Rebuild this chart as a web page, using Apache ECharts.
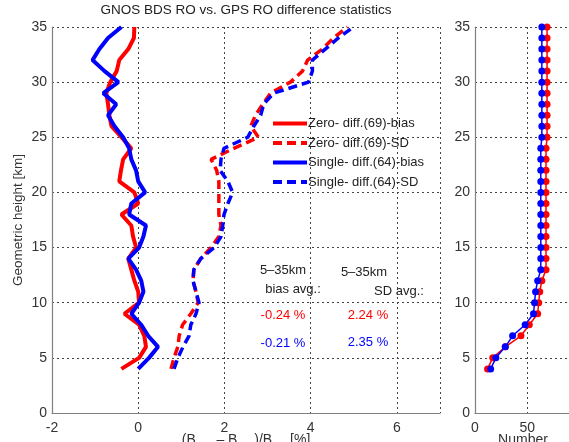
<!DOCTYPE html>
<html>
<head>
<meta charset="utf-8">
<script src="https://cdn.jsdelivr.net/npm/echarts@6/dist/echarts.min.js"></script>
<style>
html,body{margin:0;padding:0;background:#fff;}
#chart{width:569px;height:442px;}
</style>
</head>
<body>
<div id="chart"></div>
<script>
// Heights [km]
const heights = [4,5,6,7,8,9,10,11,12,13,14,15,16,17,18,19,20,21,22,23,24,25,26,27,28,29,30,31,32,33,34,35];
// Relative difference [%]
const zeroBias   = [-0.39,0.02,0.18,0.14,0.02,-0.32,0.02,0.00,-0.09,-0.16,-0.23,-0.05,-0.12,-0.16,-0.39,0.00,-0.09,-0.44,-0.40,-0.35,-0.16,-0.39,-0.62,-0.67,-0.70,-0.74,-0.65,-0.50,-0.44,-0.23,-0.10,-0.09];
const zeroSD     = [0.76,0.83,0.92,0.95,1.03,1.22,1.39,1.34,1.27,1.29,1.45,1.69,1.87,1.92,1.87,1.87,1.87,1.87,1.82,1.69,2.22,2.79,2.61,2.72,2.89,3.07,3.53,3.81,3.93,4.27,4.53,4.85];
const singleBias = [0.00,0.25,0.46,0.23,0.07,-0.16,0.02,0.12,0.07,-0.05,-0.23,0.02,0.12,0.18,-0.21,-0.16,0.16,0.00,-0.05,-0.16,-0.21,-0.35,-0.55,-0.70,-0.51,-0.81,-0.46,-0.78,-1.06,-0.90,-0.70,-0.39];
const singleSD   = [0.83,0.92,1.04,1.18,1.22,1.34,1.41,1.34,1.27,1.29,1.45,1.76,1.92,1.96,1.99,2.08,2.19,2.08,1.90,1.92,1.99,2.54,2.68,2.84,2.91,3.14,3.95,4.04,4.04,4.34,4.64,4.99];
// Number of profiles
const zeroCount   = [12,17,29,44,52,60,61,62,64,68,68,68,68,68,68,68,68,68,68,68,68,69,69,69,69,69,69,69,69,69,69,69];
const singleCount = [15,20,29,36,48,56,57,58,60,63,63,63,63,63,63,63,63,63,63,63,63,64,64,64,64,64,64,64,64,64,64,64];
// Labels
const seriesNames = ['Zero- diff.(69)-bias','Zero- diff.(69)-SD','Single- diff.(64)-bias','Single- diff.(64)-SD'];
const titleText = 'GNOS BDS RO vs. GPS RO difference statistics';
const avgLabels = {range:'5\u201335km', bias:'bias avg.:', sd:'SD avg.:', zeroBias:'-0.24 %', zeroSD:'2.24 %', singleBias:'-0.21 %', singleSD:'2.35 %'};

const RED = '#ff0000', BLUE = '#0000ff';
const pair = (xs) => xs.map((v,i) => [v, heights[i]]);
const FONT = 'Liberation Sans, Arial, sans-serif';
const gridLine = {show:true, lineStyle:{color:'#444', type:[2,3], width:1}};
const axLine = {show:true, onZero:false, lineStyle:{color:'#808080', width:1.2}};
const lbl = {color:'#333', fontSize:14, fontFamily:FONT};

const chart = echarts.init(document.getElementById('chart'));
chart.setOption({
  animation:false,
  backgroundColor:'#fff',
  grid:[
    {left:52, top:27, width:388, bottom:29},
    {left:475, top:27, width:94, bottom:29}
  ],
  xAxis:[
    {gridIndex:0, type:'value', min:-2, max:7, interval:2, axisLine:axLine, axisTick:{show:false},
     splitLine:gridLine, axisLabel:Object.assign({margin:8, showMaxLabel:false}, lbl)},
    {gridIndex:1, type:'value', min:0, max:90, interval:50, axisLine:axLine, axisTick:{show:false},
     splitLine:gridLine, axisLabel:Object.assign({margin:8, showMaxLabel:false}, lbl)}
  ],
  yAxis:[
    {gridIndex:0, type:'value', min:0, max:35, interval:5, axisLine:axLine, axisTick:{show:false},
     splitLine:gridLine, axisLabel:Object.assign({margin:5}, lbl)},
    {gridIndex:1, type:'value', min:0, max:35, interval:5, axisLine:axLine, axisTick:{show:false},
     splitLine:gridLine, axisLabel:Object.assign({margin:5}, lbl)}
  ],
  legend:{
    data:seriesNames, orient:'vertical', left:266, top:112, itemWidth:34, itemHeight:14, itemGap:6.5,
    itemStyle:{opacity:0}, lineStyle:{width:4},
    textStyle:{color:'#222', fontSize:13, fontFamily:FONT, padding:[0,0,0,-4]}, backgroundColor:'transparent'
  },
  series:[
    {name:seriesNames[0], type:'line', xAxisIndex:0, yAxisIndex:0, data:pair(zeroBias), symbol:'none',
     lineStyle:{color:RED, width:4}, itemStyle:{color:RED}},
    {name:seriesNames[1], type:'line', xAxisIndex:0, yAxisIndex:0, data:pair(zeroSD), symbol:'none',
     lineStyle:{color:RED, width:3.5, type:[9,5]}, itemStyle:{color:RED}},
    {name:seriesNames[2], type:'line', xAxisIndex:0, yAxisIndex:0, data:pair(singleBias), symbol:'none',
     lineStyle:{color:BLUE, width:4}, itemStyle:{color:BLUE}},
    {name:seriesNames[3], type:'line', xAxisIndex:0, yAxisIndex:0, data:pair(singleSD), symbol:'none',
     lineStyle:{color:BLUE, width:3.5, type:[9,5]}, itemStyle:{color:BLUE}},
    {name:'zeroCount', type:'line', xAxisIndex:1, yAxisIndex:1, data:pair(zeroCount), symbol:'circle', symbolSize:7,
     lineStyle:{color:RED, width:1.5}, itemStyle:{color:RED}},
    {name:'singleCount', type:'line', xAxisIndex:1, yAxisIndex:1, data:pair(singleCount), symbol:'circle', symbolSize:7,
     lineStyle:{color:BLUE, width:1.5}, itemStyle:{color:BLUE}}
  ],
  graphic:[
    {type:'text', x:246, y:3, style:{text:titleText, fill:'#222', fontSize:13.5, fontFamily:FONT, align:'center', verticalAlign:'top'}},
    {type:'text', x:18, y:220, rotation:Math.PI/2, style:{text:'Geometric height [km]', fill:'#333', fontSize:13.5, fontFamily:FONT, align:'center', verticalAlign:'middle'}},
    {type:'text', x:246, y:433, style:{text:'(B\u2009\u2009\u2009\u2009\u2009\u2009 \u2013 B\u2009\u2009\u2009\u2009\u2009\u2009)/B\u2009\u2009\u2009\u2009\u2009 [%]', fill:'#333', fontSize:14, fontFamily:FONT, align:'center', verticalAlign:'top'}},
    {type:'text', x:523, y:433, style:{text:'Number', fill:'#333', fontSize:14, fontFamily:FONT, align:'center', verticalAlign:'top'}},
    {type:'text', x:283, y:270, style:{text:avgLabels.range, fill:'#222', fontSize:13, fontFamily:FONT, align:'center', verticalAlign:'middle'}},
    {type:'text', x:293, y:289, style:{text:avgLabels.bias, fill:'#222', fontSize:13, fontFamily:FONT, align:'center', verticalAlign:'middle'}},
    {type:'text', x:364, y:272, style:{text:avgLabels.range, fill:'#222', fontSize:13, fontFamily:FONT, align:'center', verticalAlign:'middle'}},
    {type:'text', x:399, y:291, style:{text:avgLabels.sd, fill:'#222', fontSize:13, fontFamily:FONT, align:'center', verticalAlign:'middle'}},
    {type:'text', x:283, y:315, style:{text:avgLabels.zeroBias, fill:RED, fontSize:13, fontFamily:FONT, align:'center', verticalAlign:'middle'}},
    {type:'text', x:368, y:315, style:{text:avgLabels.zeroSD, fill:RED, fontSize:13, fontFamily:FONT, align:'center', verticalAlign:'middle'}},
    {type:'text', x:283, y:343, style:{text:avgLabels.singleBias, fill:BLUE, fontSize:13, fontFamily:FONT, align:'center', verticalAlign:'middle'}},
    {type:'text', x:368, y:342, style:{text:avgLabels.singleSD, fill:BLUE, fontSize:13, fontFamily:FONT, align:'center', verticalAlign:'middle'}}
  ]
});
</script>
</body>
</html>
